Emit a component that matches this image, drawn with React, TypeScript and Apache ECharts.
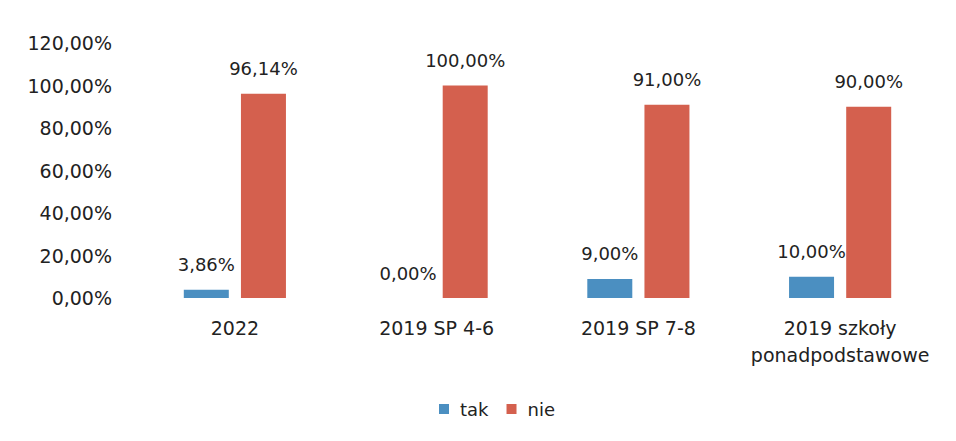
import React, { useEffect, useRef } from "react";
import * as echarts from "echarts";

const categories = ["2022", "2019 SP 4-6", "2019 SP 7-8", "2019 szkoły\nponadpodstawowe"];
const takValues = [3.86, 0.0, 9.0, 10.0];
const nieValues = [96.14, 100.0, 91.0, 90.0];
const seriesNames = ["tak", "nie"];

const FONT = "DejaVu Sans";
const fmt = (v: number) => v.toFixed(2).replace(".", ",") + "%";

export default function App() {
  const ref = useRef<HTMLDivElement>(null);
  useEffect(() => {
    document.body.style.margin = "0";
    if (!ref.current) return;
    const chart = echarts.init(ref.current, null, { renderer: "svg" });
    const labelStyle = {
      show: true,
      position: "top" as const,
      distance: 16,
      color: "#222",
      fontFamily: FONT,
      fontSize: 18,
      formatter: (p: any) => fmt(p.value),
    };
    chart.setOption({
      animation: false,
      backgroundColor: "#fff",
      textStyle: { fontFamily: FONT },
      grid: { left: 134, right: 15, top: 43, bottom: 143 },
      legend: {
        data: seriesNames,
        bottom: 18,
        left: 434,
        icon: "rect",
        itemWidth: 10,
        itemHeight: 10,
        itemGap: 18,
        textStyle: { fontFamily: FONT, fontSize: 18, color: "#222", padding: [0, 0, 0, 6] },
      },
      xAxis: {
        type: "category",
        data: categories,
        axisLine: { show: false },
        axisTick: { show: false },
        axisLabel: {
          fontFamily: FONT,
          fontSize: 19,
          color: "#222",
          margin: 16,
          lineHeight: 27,
          interval: 0,
        },
      },
      yAxis: {
        type: "value",
        min: 0,
        max: 120,
        interval: 20,
        splitLine: { show: false },
        axisLine: { show: false },
        axisTick: { show: false },
        axisLabel: {
          fontFamily: FONT,
          fontSize: 19,
          color: "#222",
          margin: 22,
          formatter: (v: number) => fmt(v),
        },
      },
      series: [
        {
          name: seriesNames[0],
          type: "bar",
          data: takValues,
          barWidth: 45,
          barGap: "27%",
          itemStyle: { color: "#4b8fc1" },
          label: labelStyle,
        },
        {
          name: seriesNames[1],
          type: "bar",
          data: nieValues,
          barWidth: 45,
          itemStyle: { color: "#d4604e" },
          label: labelStyle,
        },
      ],
    });
    return () => chart.dispose();
  }, []);
  return <div ref={ref} style={{ width: 956, height: 441 }} />;
}
